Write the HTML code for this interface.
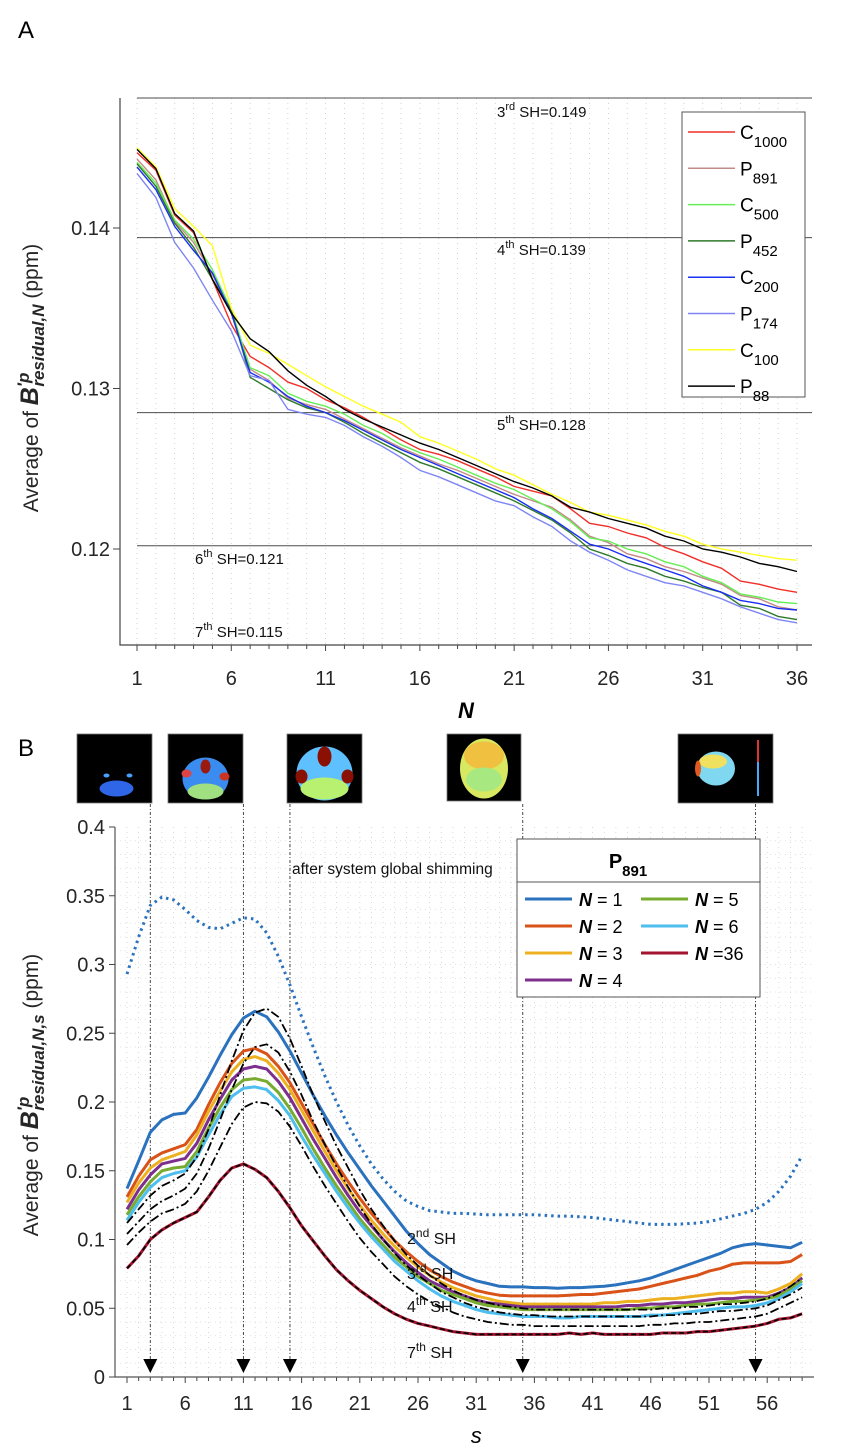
<!DOCTYPE html>
<html><head><meta charset="utf-8"><style>
html,body{margin:0;padding:0;background:#fff;}
svg{display:block;font-family:"Liberation Sans",sans-serif;}
</style></head><body>
<svg id="fig" width="845" height="1452" viewBox="0 0 845 1452" xmlns="http://www.w3.org/2000/svg">
<rect x="0" y="0" width="845" height="1452" fill="#fff"/>
<text x="18" y="38" font-size="24">A</text>
<text x="18" y="756" font-size="24">B</text>
<g id="gA"></g>
<g id="gB"></g>
</svg>
<script>
// ===== Panel A data =====
const aN = [1,2,3,4,5,6,7,8,9,10,11,12,13,14,15,16,17,18,19,20,21,22,23,24,25,26,27,28,29,30,31,32,33,34,35,36];
const aXTicks = [1,6,11,16,21,26,31,36];
const aYTicks = [0.12,0.13,0.14];
const aYTickLabels = ["0.12","0.13","0.14"];
const aNames = ["C1000","P891","C500","P452","C200","P174","C100","P88"];
const aColors = ["#f0302a","#c48a88","#66ee55","#2e7a2a","#1a2ff0","#7f86f2","#ffff22","#000000"];
const aC1000 = [0.1447,0.1436,0.1408,0.1397,0.1368,0.1340,0.1320,0.1313,0.1304,0.1300,0.1293,0.1288,0.1282,0.1275,0.1268,0.1262,0.1259,0.1255,0.1250,0.1245,0.1239,0.1236,0.1233,0.1225,0.1216,0.1214,0.1210,0.1207,0.1201,0.1197,0.1192,0.1188,0.1180,0.1178,0.1175,0.1173];
const aP891 = [0.1443,0.1430,0.1404,0.1391,0.1371,0.1347,0.1312,0.1305,0.1294,0.1290,0.1287,0.1281,0.1275,0.1269,0.1263,0.1258,0.1253,0.1249,0.1244,0.1239,0.1234,0.1230,0.1226,0.1218,0.1208,0.1204,0.1197,0.1194,0.1189,0.1186,0.1182,0.1178,0.1171,0.1169,0.1164,0.1162];
const aC500 = [0.1441,0.1428,0.1405,0.1393,0.1374,0.1349,0.1313,0.1308,0.1297,0.1292,0.1289,0.1284,0.1277,0.1272,0.1265,0.1260,0.1256,0.1251,0.1246,0.1241,0.1237,0.1231,0.1225,0.1217,0.1207,0.1205,0.1200,0.1197,0.1192,0.1189,0.1183,0.1179,0.1172,0.1170,0.1167,0.1166];
const aP452 = [0.1440,0.1426,0.1403,0.1388,0.1368,0.1349,0.1307,0.1300,0.1293,0.1288,0.1285,0.1279,0.1272,0.1266,0.1260,0.1254,0.1250,0.1245,0.1240,0.1235,0.1230,0.1224,0.1218,0.1210,0.1200,0.1196,0.1191,0.1188,0.1183,0.1180,0.1176,0.1173,0.1165,0.1163,0.1158,0.1156];
const aC200 = [0.1438,0.1424,0.1401,0.1386,0.1372,0.1347,0.1310,0.1304,0.1295,0.1289,0.1285,0.1280,0.1274,0.1268,0.1262,0.1257,0.1252,0.1247,0.1242,0.1237,0.1232,0.1225,0.1219,0.1211,0.1203,0.1200,0.1195,0.1191,0.1187,0.1183,0.1177,0.1173,0.1168,0.1166,0.1163,0.1162];
const aP174 = [0.1434,0.1419,0.1391,0.1375,0.1355,0.1336,0.1308,0.1305,0.1287,0.1284,0.1282,0.1277,0.1270,0.1264,0.1257,0.1249,0.1245,0.1240,0.1235,0.1230,0.1227,0.1220,0.1214,0.1205,0.1198,0.1193,0.1187,0.1183,0.1179,0.1177,0.1173,0.1169,0.1164,0.1160,0.1156,0.1154];
const aC100 = [0.1450,0.1438,0.1412,0.1401,0.1389,0.1350,0.1327,0.1322,0.1315,0.1308,0.1301,0.1295,0.1289,0.1284,0.1279,0.1270,0.1266,0.1261,0.1256,0.1250,0.1246,0.1240,0.1234,0.1229,0.1223,0.1221,0.1218,0.1215,0.1211,0.1208,0.1203,0.1200,0.1198,0.1196,0.1194,0.1193];
const aP88 = [0.1449,0.1437,0.1409,0.1398,0.1368,0.1347,0.1331,0.1323,0.1311,0.1302,0.1295,0.1287,0.1281,0.1276,0.1271,0.1266,0.1262,0.1257,0.1252,0.1247,0.1242,0.1238,0.1233,0.1226,0.1223,0.1219,0.1216,0.1213,0.1208,0.1205,0.1200,0.1198,0.1195,0.1191,0.1189,0.1186];
const aSHOrders = ["3","4","5","6","7"];
const aSHSup = ["rd","th","th","th","th"];
const aSHValues = [0.1481,0.1394,0.1285,0.1202,0.1132];
const aSHLabels = ["0.149","0.139","0.128","0.121","0.115"];

// ===== Panel B data =====
const bS = [];
for (let i = 1; i <= 59; i++) bS.push(i);
const bXTicks = [1,6,11,16,21,26,31,36,41,46,51,56];
const bYTicks = [0,0.05,0.1,0.15,0.2,0.25,0.3,0.35,0.4];
const bYTickLabels = ["0","0.05","0.1","0.15","0.2","0.25","0.3","0.35","0.4"];
const bGlobal = [.293,.320,.343,.349,.347,.340,.332,.327,.326,.330,.334,.333,.323,.306,.285,.262,.240,.219,.200,.183,.168,.155,.144,.135,.128,.124,.121,.120,.119,.119,.1185,.118,.118,.118,.118,.118,.1175,.117,.117,.1165,.116,.115,.114,.113,.112,.111,.111,.111,.1115,.112,.113,.115,.117,.119,.122,.127,.135,.146,.161];
const bN1 = [.137,.157,.178,.187,.191,.192,.203,.218,.234,.249,.261,.266,.262,.251,.237,.221,.205,.190,.176,.163,.151,.139,.128,.117,.106,.097,.089,.083,.077,.073,.070,.068,.066,.0655,.0655,.065,.065,.0645,.065,.065,.0655,.066,.067,.0685,.070,.072,.075,.078,.081,.084,.087,.090,.094,.096,.097,.096,.095,.094,.098];
const bN2 = [.131,.146,.158,.163,.166,.169,.180,.198,.214,.228,.237,.239,.235,.226,.214,.199,.184,.169,.155,.142,.130,.119,.109,.099,.091,.084,.078,.073,.069,.066,.063,.061,.0595,.059,.059,.059,.059,.059,.0595,.060,.060,.061,.062,.063,.064,.066,.068,.070,.072,.074,.077,.079,.082,.083,.083,.083,.083,.084,.089];
const bN3 = [.127,.141,.152,.158,.161,.164,.176,.193,.208,.222,.231,.233,.230,.221,.209,.194,.179,.164,.150,.137,.125,.114,.104,.095,.087,.080,.074,.069,.065,.062,.059,.057,.055,.054,.053,.053,.053,.053,.053,.053,.053,.054,.054,.055,.055,.056,.057,.057,.058,.059,.060,.061,.061,.062,.062,.061,.064,.068,.075];
const bN4 = [.122,.136,.147,.155,.157,.159,.170,.187,.202,.216,.224,.226,.224,.215,.203,.188,.173,.159,.145,.132,.120,.110,.100,.091,.083,.076,.070,.066,.062,.059,.056,.054,.053,.052,.051,.051,.051,.051,.051,.051,.051,.051,.051,.052,.052,.053,.053,.054,.054,.055,.056,.057,.057,.058,.058,.058,.061,.065,.072];
const bN5 = [.118,.131,.142,.150,.152,.153,.164,.181,.196,.209,.216,.217,.215,.207,.195,.181,.166,.152,.139,.127,.115,.105,.096,.087,.080,.073,.068,.063,.060,.057,.054,.052,.051,.050,.049,.049,.049,.049,.049,.049,.049,.049,.049,.049,.050,.050,.051,.051,.052,.053,.053,.054,.055,.055,.056,.057,.059,.064,.070];
const bN6 = [.114,.127,.138,.145,.148,.150,.160,.176,.191,.204,.210,.211,.209,.201,.190,.175,.161,.148,.135,.123,.112,.102,.093,.084,.077,.070,.064,.059,.055,.052,.049,.047,.046,.045,.044,.044,.044,.043,.043,.044,.044,.044,.044,.044,.044,.045,.045,.046,.047,.048,.049,.050,.051,.051,.052,.054,.057,.062,.068];
const bN36 = [.079,.088,.100,.107,.112,.116,.120,.131,.143,.152,.155,.151,.145,.135,.123,.110,.099,.088,.078,.070,.063,.057,.051,.046,.042,.039,.037,.035,.033,.032,.031,.031,.031,.031,.031,.031,.031,.031,.032,.031,.032,.031,.031,.031,.031,.031,.032,.032,.032,.033,.033,.034,.035,.036,.037,.039,.042,.043,.046];
const bSH2 = [.112,.122,.132,.139,.143,.148,.160,.180,.205,.230,.252,.265,.268,.262,.246,.226,.205,.186,.168,.152,.136,.122,.110,.099,.089,.081,.074,.068,.063,.059,.056,.054,.052,.051,.050,.049,.049,.049,.049,.049,.049,.049,.049,.049,.049,.049,.050,.050,.051,.051,.052,.053,.053,.054,.055,.057,.061,.066,.072];
const bSH3 = [.104,.113,.122,.128,.132,.137,.148,.166,.187,.209,.228,.240,.242,.236,.222,.205,.186,.169,.153,.138,.124,.111,.100,.090,.081,.074,.068,.062,.058,.054,.051,.049,.047,.046,.045,.045,.044,.044,.044,.044,.044,.044,.044,.044,.044,.044,.045,.045,.046,.046,.047,.048,.048,.049,.050,.052,.056,.060,.065];
const bSH4 = [.096,.105,.113,.119,.122,.126,.135,.150,.167,.184,.196,.200,.199,.193,.182,.168,.153,.139,.126,.113,.101,.091,.082,.073,.066,.060,.055,.051,.047,.044,.042,.040,.039,.038,.038,.037,.037,.037,.037,.037,.037,.037,.037,.037,.037,.038,.038,.039,.039,.040,.040,.041,.042,.043,.044,.046,.050,.054,.058];
const bSH7 = bN36;
const bLegendLabels = ["1","2","3","4","5","6","36"];
const bColors = ["#2a72bd","#d95319","#edb120","#7e2f8e","#77ac30","#4dbeee","#a2142f"];
const bMarkS = [3,11,15,35,55];

const NS = "http://www.w3.org/2000/svg";
function mk(parent, tag, attrs) {
  const e = document.createElementNS(NS, tag);
  for (const k in attrs) e.setAttribute(k, attrs[k]);
  parent.appendChild(e);
  return e;
}

// ===== Panel A =====
const gA = document.getElementById('gA');
const A = {x0:120, x1:812, y0:98, y1:645};
function xA(n){ return 137 + (n-1)*(797-137)/35; }
function yA(v){ return 228 - (v-0.14)*16050; }

for (let n = 1; n <= 36; n++) {
  const gl = mk(gA,'line',{x1:xA(n),x2:xA(n),y1:A.y0,y2:A.y1,stroke:'#c8c8c8','stroke-width':0.8,'stroke-dasharray':'1,4'});
  
  
  const tk = mk(gA,'line',{x1:xA(n),x2:xA(n),y1:A.y1,y2:A.y1+(aXTicks.includes(n)?6:4),stroke:'#444','stroke-width':1});
  
  
}
aXTicks.forEach(n=>{
  const t = mk(gA,'text',{x:xA(n),y:685,'text-anchor':'middle','font-size':20,fill:'#262626'});
  t.textContent = n;
  
  
});
aYTicks.forEach((v,i)=>{
  const tk = mk(gA,'line',{x1:A.x0-7,x2:A.x0,y1:yA(v),y2:yA(v),stroke:'#444','stroke-width':1});
  
  
  const t = mk(gA,'text',{x:A.x0-10,y:yA(v)+7,'text-anchor':'end','font-size':20,fill:'#262626'});
  t.textContent = aYTickLabels[i];
  
  
});
const axA = mk(gA,'path',{d:`M${A.x0},${A.y0} V${A.y1} H${A.x1}`,fill:'none',stroke:'#444','stroke-width':1.2});



const aLabelPos = [[497,117],[497,255],[497,430],[195,564],[195,637]];
aSHValues.forEach((v,i)=>{
  if (i < 4) {
    const l = mk(gA,'line',{x1:xA(1),x2:A.x1,y1:yA(v),y2:yA(v),stroke:'#4d4d4d','stroke-width':1});
    
    
  }
  const t = mk(gA,'text',{x:aLabelPos[i][0],y:aLabelPos[i][1],'font-size':15,fill:'#111'});
  
  
  t.innerHTML = aSHOrders[i]+'<tspan dy="-7" font-size="11">'+aSHSup[i]+'</tspan><tspan dy="7"> SH='+aSHLabels[i]+'</tspan>';
});

const aSeries = [aC1000,aP891,aC500,aP452,aC200,aP174,aC100,aP88];
aSeries.forEach((arr,i)=>{
  const d = arr.map((v,j)=>(j?'L':'M')+xA(aN[j]).toFixed(1)+','+yA(v).toFixed(1)).join(' ');
  const p = mk(gA,'path',{d:d,fill:'none',stroke:aColors[i],'stroke-width':1.4});
  
  
});

const legA = mk(gA,'g',{});


mk(legA,'rect',{x:682,y:112,width:123,height:285,fill:'#fff',stroke:'#555','stroke-width':1});
aNames.forEach((nm,i)=>{
  const y = 132 + i*36.3;
  const l = mk(legA,'line',{x1:688,x2:735,y1:y,y2:y,stroke:aColors[i],'stroke-width':1.5});
  
  
  const t = mk(legA,'text',{x:740,y:y+7,'font-size':19,fill:'#000'});
  
  
  t.innerHTML = nm[0]+'<tspan dy="8" font-size="15">'+nm.slice(1)+'</tspan>';
});

const xlA = mk(gA,'text',{x:466,y:718,'text-anchor':'middle','font-size':22,'font-weight':'bold','font-style':'italic'});
xlA.textContent = 'N';


const ylA = mk(gA,'text',{x:0,y:0,'text-anchor':'middle','font-size':21,fill:'#262626',transform:'translate(38,378) rotate(-90)'});


ylA.innerHTML = 'Average of <tspan font-weight="bold" font-style="italic" font-size="25">B</tspan><tspan font-weight="bold" font-style="italic" dy="-9" font-size="17">′p</tspan><tspan font-weight="bold" font-style="italic" dy="15" dx="-14" font-size="17">residual,N</tspan><tspan dy="-6"> (ppm)</tspan>';

// ===== Panel B =====
const gB = document.getElementById('gB');
const B = {x0:115, x1:814, y0:827, y1:1377};
function xB(s){ return 127 + (s-1)*11.64; }
function yB(v){ return 1377 - v*1375; }

for (let s = 1; s <= 59; s++) {
  const gl = mk(gB,'line',{x1:xB(s),x2:xB(s),y1:B.y0,y2:B.y1,stroke:'#cfcfcf','stroke-width':0.8,'stroke-dasharray':'1,4'});
  
  
  const tk = mk(gB,'line',{x1:xB(s),x2:xB(s),y1:B.y1,y2:B.y1+(bXTicks.includes(s)?6:4),stroke:'#444','stroke-width':1});
  
  
}
for (let k = 1; k < 40; k++) {
  const v = k*0.01;
  const gl = mk(gB,'line',{x1:B.x0,x2:B.x1,y1:yB(v),y2:yB(v),stroke:'#d6d6d6','stroke-width':0.8,'stroke-dasharray':'1,4'});
  
  
}
bXTicks.forEach(s=>{
  const t = mk(gB,'text',{x:xB(s),y:1410,'text-anchor':'middle','font-size':20,fill:'#262626'});
  t.textContent = s;
  
  
});
bYTicks.forEach((v,i)=>{
  const tk = mk(gB,'line',{x1:B.x0-6,x2:B.x0,y1:yB(v),y2:yB(v),stroke:'#444','stroke-width':1});
  
  
  const t = mk(gB,'text',{x:B.x0-10,y:yB(v)+7,'text-anchor':'end','font-size':20,fill:'#262626'});
  t.textContent = bYTickLabels[i];
  
  
});
const axB = mk(gB,'path',{d:`M${B.x0},${B.y0} V${B.y1} H${B.x1}`,fill:'none',stroke:'#555','stroke-width':1.2});



const thumbs = [[77,734,75,69],[168,734,75,69],[287,734,75,69],[447,734,74,67],[678,734,95,69]];
thumbs.forEach((r,i)=>{
  const g = mk(gB,'g',{});
  
  
  mk(g,'rect',{x:r[0],y:r[1],width:r[2],height:r[3],fill:'#000',stroke:'#777','stroke-width':0.8});
  const cx = r[0]+r[2]/2, cy = r[1]+r[3]/2;
  if (i===0){
    mk(g,'ellipse',{cx:cx+2,cy:cy+20,rx:17,ry:8,fill:'#2f66e8'});
    mk(g,'ellipse',{cx:cx-8,cy:cy+7,rx:3,ry:2,fill:'#4aa0ff'});
    mk(g,'ellipse',{cx:cx+15,cy:cy+7,rx:3,ry:2,fill:'#4aa0ff'});
  } else if (i===1){
    mk(g,'ellipse',{cx:cx,cy:cy+10,rx:23,ry:21,fill:'#3a8cf0'});
    mk(g,'ellipse',{cx:cx,cy:cy+23,rx:18,ry:8,fill:'#a0e080'});
    mk(g,'ellipse',{cx:cx,cy:cy-2,rx:5,ry:7,fill:'#9a1a10'});
    mk(g,'ellipse',{cx:cx-19,cy:cy+5,rx:5,ry:4,fill:'#d44'});
    mk(g,'ellipse',{cx:cx+19,cy:cy+8,rx:5,ry:4,fill:'#c32'});
  } else if (i===2){
    mk(g,'ellipse',{cx:cx,cy:cy+5,rx:28,ry:27,fill:'#5fc0ff'});
    mk(g,'ellipse',{cx:cx,cy:cy+20,rx:24,ry:11,fill:'#b8f070'});
    mk(g,'ellipse',{cx:cx,cy:cy-12,rx:7,ry:10,fill:'#8a1004'});
    mk(g,'ellipse',{cx:cx-23,cy:cy+8,rx:6,ry:7,fill:'#8a1004'});
    mk(g,'ellipse',{cx:cx+23,cy:cy+8,rx:6,ry:7,fill:'#8a1004'});
  } else if (i===3){
    mk(g,'ellipse',{cx:cx,cy:cy+1,rx:24,ry:30,fill:'#d8e860'});
    mk(g,'ellipse',{cx:cx,cy:cy-12,rx:20,ry:14,fill:'#f0c040'});
    mk(g,'ellipse',{cx:cx,cy:cy+12,rx:18,ry:12,fill:'#a8e880'});
  } else {
    mk(g,'ellipse',{cx:r[0]+38,cy:cy,rx:19,ry:17,fill:'#80d8f0'});
    mk(g,'ellipse',{cx:r[0]+35,cy:cy-7,rx:14,ry:7,fill:'#f0e060'});
    mk(g,'ellipse',{cx:r[0]+20,cy:cy,rx:3,ry:8,fill:'#e05a20'});
    mk(g,'rect',{x:r[0]+79,y:r[1]+6,width:2,height:56,fill:'#4af'});
    mk(g,'rect',{x:r[0]+79,y:r[1]+6,width:2,height:22,fill:'#d33'});
  }
});

bMarkS.forEach(s=>{
  const l = mk(gB,'line',{x1:xB(s),x2:xB(s),y1:804,y2:1360,stroke:'#333','stroke-width':0.9,'stroke-dasharray':'3,2,1,2'});
  
  
  const x = xB(s);
  const a = mk(gB,'path',{d:`M${x-7},${1359} L${x+7},${1359} L${x},${1373} Z`,fill:'#000'});
  
  
});

function pathB(arr){ return arr.map((v,j)=>(j?'L':'M')+xB(bS[j]).toFixed(1)+','+yB(v).toFixed(1)).join(' '); }

const gp = mk(gB,'path',{d:pathB(bGlobal),fill:'none',stroke:'#2a72bd','stroke-width':3,'stroke-dasharray':'2.5,4','stroke-linecap':'butt'});



const bSeries = [bN1,bN2,bN3,bN4,bN5,bN6,bN36];
bSeries.forEach((arr,i)=>{
  const p = mk(gB,'path',{d:pathB(arr),fill:'none',stroke:bColors[i],'stroke-width':3,'stroke-linejoin':'round'});
  
  
});
[bSH2,bSH3,bSH4].forEach((arr,i)=>{
  const p = mk(gB,'path',{d:pathB(arr),fill:'none',stroke:'#000','stroke-width':1.8,'stroke-dasharray':'9,3,2,3'});
  
  
});
const p7 = mk(gB,'path',{d:pathB(bSH7),fill:'none',stroke:'#000','stroke-width':1.6,'stroke-dasharray':'5,3'});



const ann = mk(gB,'text',{x:292,y:874,'font-size':15.5,fill:'#111'});
ann.textContent = 'after system global shimming';


const shB = [["2","nd",407,1244],["3","rd",407,1279],["4","th",407,1312],["7","th",407,1358]];
shB.forEach(a=>{
  const t = mk(gB,'text',{x:a[2],y:a[3],'font-size':16,fill:'#111'});
  
  
  t.innerHTML = a[0]+'<tspan dy="-7" font-size="12">'+a[1]+'</tspan><tspan dy="7"> SH</tspan>';
});

const legB = mk(gB,'g',{});


mk(legB,'rect',{x:517,y:839,width:243,height:158,fill:'#fff',stroke:'#555','stroke-width':1});
mk(legB,'line',{x1:517,x2:760,y1:882,y2:882,stroke:'#555','stroke-width':1});
const lt = mk(legB,'text',{x:628,y:868,'text-anchor':'middle','font-size':20,'font-weight':'bold'});
lt.innerHTML = 'P<tspan dy="8" font-size="15">891</tspan>';


bLegendLabels.forEach((lab,i)=>{
  const col = i<4?0:1, row = i<4?i:i-4;
  const x = col? 641 : 525;
  const y = 899 + row*27;
  const l = mk(legB,'line',{x1:x,x2:x+47,y1:y,y2:y,stroke:bColors[i],'stroke-width':3});
  
  
  const t = mk(legB,'text',{x:x+54,y:y+7,'font-size':18});
  
  
  t.innerHTML = '<tspan font-weight="bold" font-style="italic">N</tspan> '+(lab==='36'?'=36':'= '+lab);
});

const xlB = mk(gB,'text',{x:xB(31),y:1443,'text-anchor':'middle','font-size':22,'font-style':'italic'});
xlB.textContent = 's';


const ylB = mk(gB,'text',{x:0,y:0,'text-anchor':'middle','font-size':21,fill:'#262626',transform:'translate(38,1095) rotate(-90)'});


ylB.innerHTML = 'Average of <tspan font-weight="bold" font-style="italic" font-size="25">B</tspan><tspan font-weight="bold" font-style="italic" dy="-9" font-size="17">′p</tspan><tspan font-weight="bold" font-style="italic" dy="15" dx="-14" font-size="17">residual,N,s</tspan><tspan dy="-6"> (ppm)</tspan>';
</script>
</body></html>
